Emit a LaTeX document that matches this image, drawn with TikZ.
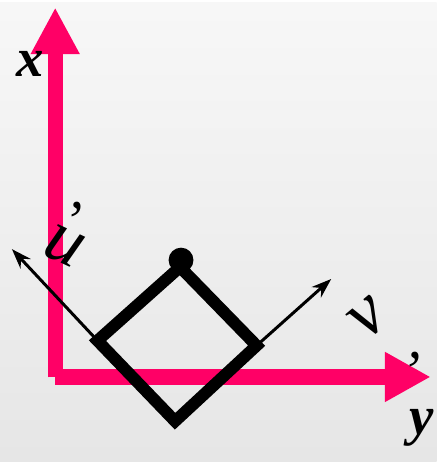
\documentclass[tikz,border=0pt]{standalone}
\usepackage{fontspec}
\setmainfont{Liberation Serif}
\usepackage{tikz}
\definecolor{hong}{RGB}{255,0,102}
\definecolor{nen}{RGB}{242,242,242}
\usetikzlibrary{arrows.meta}

\begin{document}
\begin{tikzpicture}[x=1pt, y=1pt, >={Stealth[length=20pt, width=14pt]},
    nhan/.style={font=\fontsize{55}{60}\selectfont\bfseries\itshape, inner sep=0pt},
    vecto/.style={font=\fontsize{74}{80}\selectfont\itshape, inner sep=0pt},
    phay/.style={font=\fontsize{58}{64}\selectfont\itshape, inner sep=0pt, anchor=north}]
    % Nền
    \shade[top color=nen!60!white, bottom color=nen!95!black] (0,0) rectangle (439,462);
    % Trục x, y
    \coordinate (O) at (55.5,85);
    \coordinate (X) at (55.5,457);
    \coordinate (O2) at (55,85.5);
    \coordinate (Y) at (433,85.5);
    \draw[hong, line width=15pt, -{Triangle[length=47pt, width=46pt]}] (O) -- (X);
    \draw[hong, line width=16pt, -{Triangle[length=46pt, width=47pt]}] (O2) -- (Y);
    \node[nhan] (lx) at (30,400) {x};
    \node[nhan, anchor=base] (ly) at (424,28) {y};
    % Hình vuông
    \coordinate (A) at (98,122);
    \coordinate (B) at (181,196);
    \coordinate (C) at (258,117);
    \coordinate (D) at (176,41);
    \draw[line width=12pt, miter limit=4] (A) -- (B) -- (C) -- (D) -- cycle;
    \fill (182,203) circle (12.5);
    % Véctơ u' và v'
    \coordinate (U) at (12,214);
    \coordinate (V) at (333,184);
    \draw[->, line width=3pt] (A) -- (U);
    \draw[->, line width=3pt] (C) -- (V);
    \node[vecto, rotate=-25] (lu) at (64,217) {u};
    \node[phay] (lup) at (73,261) {'};
    \node[vecto, rotate=40] (lv) at (370,144) {v};
    \node[phay] (lvp) at (413,111) {'};
\end{tikzpicture}
\end{document}
